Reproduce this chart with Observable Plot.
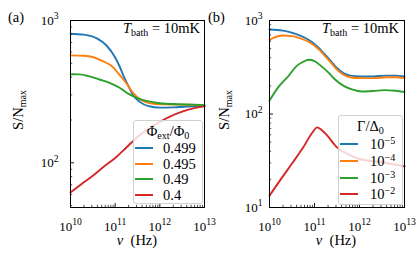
<!DOCTYPE html>
<html><head><meta charset="utf-8">
<script src="https://cdn.jsdelivr.net/npm/d3@7"></script>
<script src="https://cdn.jsdelivr.net/npm/@observablehq/plot@0.6"></script>
<style>
body{margin:0;background:#fff;}
#wrap{position:relative;width:416px;height:259px;font-family:"Liberation Serif",serif;color:#000;overflow:hidden;}
#wrap svg, #wrap svg text{font-family:"Liberation Serif",serif !important;}
.panel{position:absolute;top:0;}
.legend{position:absolute;background:rgba(255,255,255,0.8);border:1px solid #d0d0d0;border-radius:3px;box-sizing:border-box;font-size:14.5px;}
.legend .ttl{position:absolute;left:0;right:0;text-align:center;line-height:16px;white-space:nowrap;}
.legend .row{position:absolute;left:0;right:0;height:16px;line-height:16px;white-space:nowrap;}
.legend .hd{position:absolute;height:2px;top:7px;}
.legend .tx{position:absolute;top:0;}
.sub{font-size:0.7em;position:relative;top:0.3em;}
.sup{font-size:0.7em;position:relative;top:-0.45em;}
</style></head>
<body><div id="wrap"></div>
<script>
// ---- data (x values are log10 of frequency in Hz) ----
const colors = ["#1f77b4", "#ff7f0e", "#2ca02c", "#d62728"];
const xTickExps = [10, 11, 12, 13];
const minorMult = [2, 3, 4, 5, 6, 7, 8, 9];

// panel (a): Phi_ext/Phi_0
const aLabels = ["0.499", "0.495", "0.49", "0.4"];
const aNuBlue = [10.0,10.3,10.6,10.8,11.0,11.1,11.2,11.3,11.4,11.55,11.75,12.0,12.3,12.6,13.0];
const aSBlue  = [807,795,745,670,550,475,400,345,300,268,250,244,245,248,250];
const aNuOrange = [10.0,10.3,10.5,10.7,10.9,11.1,11.27,11.35,11.5,11.7,11.9,12.2,12.6,13.0];
const aSOrange  = [569,565,554,522,484,415,355,325,288,266,259,257,256,253];
const aNuGreen = [10.0,10.2,10.4,10.65,10.9,11.1,11.3,11.5,11.7,12.0,12.4,12.8,13.0];
const aSGreen  = [419,418,407,385,362,337,305,285,272,262,258,256,254];
const aNuRed = [10.0,10.25,10.5,10.75,11.0,11.25,11.5,11.75,12.0,12.25,12.5,12.75,13.0];
const aSRed  = [62,71,81,94,108,128,152,173,194,213,229,241,249];
const aYDomain = [48.5, 1000];
const aYMajor = [100, 1000];
const aYMinor = [50,60,70,80,90,200,300,400,500,600,700,800,900];

// panel (b): Gamma/Delta_0
const bLabels = ["−5", "−4", "−3", "−2"];
const bNuBlue = [10.0,10.3,10.58,10.8,10.95,11.1,11.2,11.35,11.5,11.65,11.8,12.0,12.3,12.6,12.8,13.0];
const bSBlue  = [800,780,720,650,586,505,450,375,310,272,257,252,252,257,257,252];
const bNuOrange = [10.0,10.15,10.3,10.5,10.7,10.9,11.1,11.2,11.35,11.5,11.65,11.8,12.0,12.3,12.6,12.8,13.0];
const bSOrange  = [622,670,690,680,640,582,488,435,362,298,262,247,242,242,247,247,242];
const bNuGreen = [10.0,10.2,10.43,10.6,10.75,10.87,11.0,11.15,11.3,11.45,11.65,11.85,12.05,12.3,12.55,12.8,13.0];
const bSGreen  = [139,195,258,325,362,380,368,325,280,235,200,182,174,176,180,177,172];
const bNuRed = [10.0,10.25,10.5,10.75,10.95,11.06,11.15,11.28,11.5,11.73,12.0,12.5,13.0];
const bSRed  = [13.4,20,29.5,44,63,72,68,59,44,37.5,33,30.5,27.5];
const bYDomain = [10, 1000];
const bYMajor = [10, 100, 1000];
const bYMinor = [20,30,40,50,60,70,80,90,200,300,400,500,600,700,800,900];

function toRows(nu, s) { return nu.map((e, i) => ({nu: Math.pow(10, e), s: s[i]})); }

const xMajor = xTickExps.map(e => Math.pow(10, e));
const xMinor = xTickExps.slice(0, -1).flatMap(e => minorMult.map(m => m * Math.pow(10, e)));

function supify(svg) {
  d3.select(svg).selectAll("text").each(function () {
    const t = this.textContent;
    if (!t.includes("^")) return;
    const [base, exp] = t.split("^");
    this.textContent = "";
    d3.select(this).append("tspan").text(base);
    d3.select(this).append("tspan").attr("font-size", "0.74em").attr("dy", "-0.55em").text(exp);
  });
}

function makePanel({series, yDomain, yMajor, yMinor, marginLeft, marginRight, yPad}) {
  const W = 208, H = 259, mt = 20, mb = 52;
  const pw = W - marginLeft - marginRight, ph = H - mt - mb;
  const svg = Plot.plot({
    width: W, height: H, marginTop: mt, marginBottom: mb, marginLeft, marginRight,
    style: {fontFamily: "Liberation Serif, serif", fontSize: "13px", background: "transparent", color: "#000", overflow: "visible"},
    x: {type: "log", domain: [1e10, 1e13]},
    y: {type: "log", domain: yDomain},
    marks: [
      ...series.map((s, i) => Plot.line(s, {x: "nu", y: "s", stroke: colors[i], strokeWidth: 1.9, curve: "monotone-x"})),
      Plot.tickX(xMinor, {x: d => d, insetTop: ph - 2.2, stroke: "#000", strokeWidth: 0.7}),
      Plot.tickX(xMajor, {x: d => d, insetTop: ph - 4, stroke: "#000", strokeWidth: 0.9}),
      Plot.tickY(yMinor, {y: d => d, insetRight: pw - 2.2, stroke: "#000", strokeWidth: 0.7}),
      Plot.tickY(yMajor, {y: d => d, insetRight: pw - 4, stroke: "#000", strokeWidth: 0.9}),
      Plot.frame({stroke: "#000", strokeWidth: 1}),
      Plot.axisX({ticks: xMajor, tickSize: 0, tickPadding: 14, label: null, fontVariant: "normal", tickFormat: d => "10^" + Math.round(Math.log10(d))}),
      Plot.axisY({ticks: yMajor, tickSize: 0, tickPadding: yPad, label: null, fontVariant: "normal", tickFormat: d => "10^" + Math.round(Math.log10(d))})
    ]
  });
  supify(svg);
  return svg;
}

function addText(svg, x, y, parts, opts = {}) {
  const t = d3.select(svg).append("text").attr("x", x).attr("y", y)
    .attr("font-size", opts.size || 14.5).attr("fill", "#000")
    .attr("text-anchor", opts.anchor || "start");
  if (opts.transform) t.attr("transform", opts.transform).attr("x", 0).attr("y", 0);
  for (const p of parts) {
    const s = t.append("tspan").text(p.t);
    if (p.italic) s.attr("font-style", "italic");
    if (p.size) s.attr("font-size", p.size);
    if (p.dy) s.attr("dy", p.dy);
  }
  return t;
}

const wrap = document.getElementById("wrap");

const svgA = makePanel({
  series: [toRows(aNuBlue, aSBlue), toRows(aNuOrange, aSOrange), toRows(aNuGreen, aSGreen), toRows(aNuRed, aSRed)],
  yDomain: aYDomain, yMajor: aYMajor, yMinor: aYMinor, marginLeft: 70, marginRight: 4, yPad: 12
});
const svgB = makePanel({
  series: [toRows(bNuBlue, bSBlue), toRows(bNuOrange, bSOrange), toRows(bNuGreen, bSGreen), toRows(bNuRed, bSRed)],
  yDomain: bYDomain, yMajor: bYMajor, yMinor: bYMinor, marginLeft: 61, marginRight: 12, yPad: 7
});

// annotations
for (const [svg, tag, ylx, xlc, tr] of [[svgA, "(a)", 23, 137, 200], [svgB, "(b)", 20.5, 128, 191]]) {
  addText(svg, tag === "(a)" ? 8 : 0, 22, [{t: tag}], {size: 14.5});
  addText(svg, tr, 33, [{t: "T", italic: true}, {t: "bath", size: 10, dy: 3}, {t: " = 10mK", dy: -3}], {anchor: "end", size: 14.5});
  addText(svg, 0, 0, [{t: "S/N"}, {t: "max", size: 10, dy: 3}], {anchor: "middle", size: 14.5, transform: `translate(${ylx},110) rotate(-90)`});
  addText(svg, xlc, 245, [{t: "ν", italic: true}, {t: "  (Hz)"}], {anchor: "middle", size: 14.5});
}

const pa = document.createElement("div"); pa.className = "panel"; pa.style.left = "0px"; pa.appendChild(svgA); wrap.appendChild(pa);
const pb = document.createElement("div"); pb.className = "panel"; pb.style.left = "208px"; pb.appendChild(svgB); wrap.appendChild(pb);

function legend({left, top, width, height, titleHTML, titleTop, labels, rowTops, hx, hw, tx}) {
  const box = document.createElement("div");
  box.className = "legend";
  Object.assign(box.style, {left: left + "px", top: top + "px", width: width + "px", height: height + "px"});
  const ttl = document.createElement("div"); ttl.className = "ttl"; ttl.style.top = titleTop + "px"; ttl.innerHTML = titleHTML; box.appendChild(ttl);
  labels.forEach((lab, i) => {
    const r = document.createElement("div"); r.className = "row"; r.style.top = rowTops[i] + "px";
    const h = document.createElement("div"); h.className = "hd"; Object.assign(h.style, {left: hx + "px", width: hw + "px", background: colors[i]});
    const t = document.createElement("div"); t.className = "tx"; t.style.left = tx + "px"; t.innerHTML = lab;
    r.appendChild(h); r.appendChild(t); box.appendChild(r);
  });
  wrap.appendChild(box);
}

legend({left: 133, top: 120, width: 70, height: 84,
  titleHTML: 'Φ<span class="sub">ext</span>/Φ<span class="sub">0</span>', titleTop: 2,
  labels: aLabels, rowTops: [19, 34.5, 50, 66], hx: 1, hw: 18, tx: 29});
legend({left: 338, top: 115, width: 65, height: 90,
  titleHTML: 'Γ/Δ<span class="sub">0</span>', titleTop: 2,
  labels: bLabels.map(e => '10<span class="sup">' + e + '</span>'), rowTops: [19.5, 37, 53.5, 69.5], hx: 1, hw: 18, tx: 31});
</script></body></html>
